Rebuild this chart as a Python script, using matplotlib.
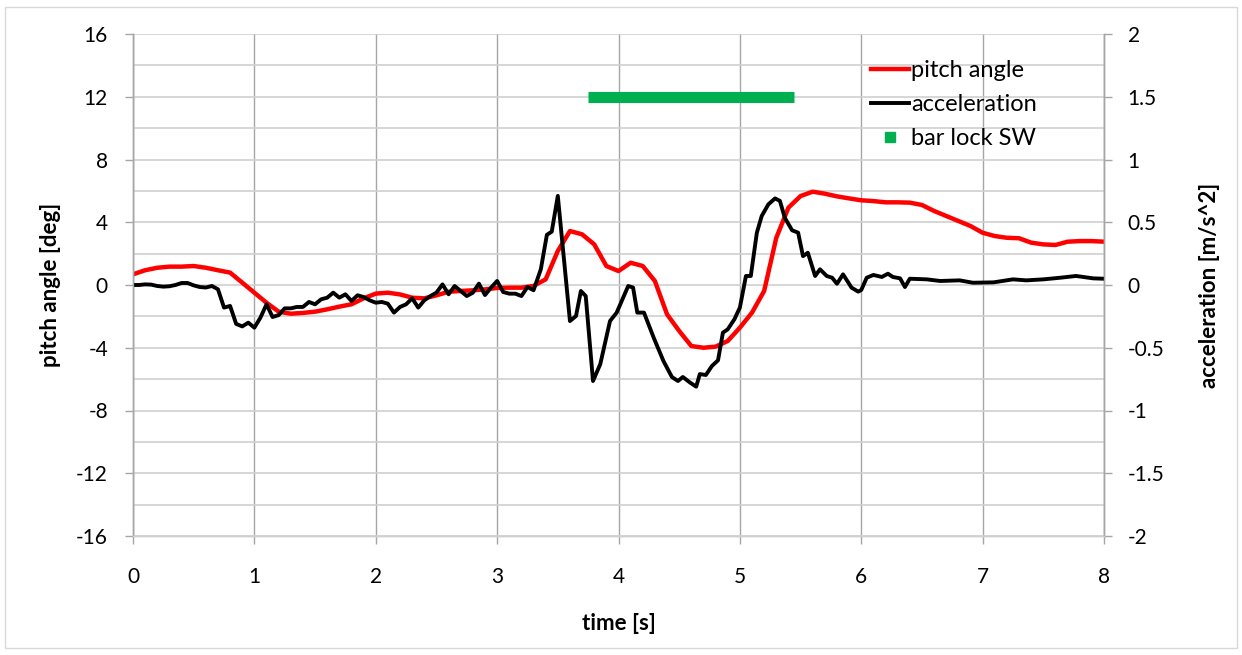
import matplotlib
matplotlib.use("Agg")
import matplotlib.pyplot as plt
from matplotlib.lines import Line2D
from matplotlib.patches import Rectangle
from matplotlib.ticker import MultipleLocator, FuncFormatter

plt.rcParams['font.family'] = ['Lato', 'DejaVu Sans']
plt.rcParams['axes.unicode_minus'] = False

# pitch angle [deg], sampled every 0.1 s
pitch_t = [0.0, 0.1, 0.2, 0.3, 0.4, 0.5, 0.6, 0.7, 0.8, 0.9,
           1.0, 1.1, 1.2, 1.3, 1.4, 1.5, 1.6, 1.7, 1.8, 1.9,
           2.0, 2.1, 2.2, 2.3, 2.4, 2.5, 2.6, 2.7, 2.8, 2.9,
           3.0, 3.1, 3.2, 3.3, 3.4, 3.5, 3.6, 3.7, 3.8, 3.9,
           4.0, 4.1, 4.2, 4.3, 4.4, 4.5, 4.6, 4.7, 4.8, 4.9,
           5.0, 5.1, 5.2, 5.3, 5.4, 5.5, 5.6, 5.7, 5.8, 5.9,
           6.0, 6.1, 6.2, 6.3, 6.4, 6.5, 6.6, 6.7, 6.8, 6.9,
           7.0, 7.1, 7.2, 7.3, 7.4, 7.5, 7.6, 7.7, 7.8, 7.9, 8.0]
pitch = [0.68, 0.94, 1.10, 1.17, 1.17, 1.21, 1.10, 0.94, 0.79, 0.15,
         -0.49, -1.13, -1.70, -1.83, -1.78, -1.70, -1.55, -1.38, -1.23, -0.85,
         -0.55, -0.49, -0.60, -0.81, -0.85, -0.66, -0.43, -0.38, -0.34, -0.28,
         -0.19, -0.17, -0.17, -0.06, 0.36, 2.17, 3.44, 3.23, 2.59, 1.21,
         0.89, 1.42, 1.21, 0.25, -1.87, -2.93, -3.89, -4.00, -3.93, -3.57,
         -2.72, -1.76, -0.38, 3.01, 4.93, 5.67, 5.95, 5.82, 5.65, 5.52,
         5.40, 5.35, 5.27, 5.27, 5.25, 5.10, 4.72, 4.40, 4.08, 3.76,
         3.33, 3.12, 3.01, 2.98, 2.70, 2.59, 2.55, 2.76, 2.80, 2.80, 2.76]

# acceleration [m/s^2]
accel_t = [0.00, 0.05, 0.10, 0.15, 0.20, 0.25, 0.30, 0.35, 0.40, 0.45,
           0.50, 0.55, 0.60, 0.65, 0.70, 0.75, 0.80, 0.85, 0.90, 0.95,
           1.00, 1.05, 1.10, 1.15, 1.20, 1.25, 1.30, 1.35, 1.40, 1.45,
           1.50, 1.55, 1.60, 1.65, 1.70, 1.75, 1.80, 1.85, 1.90, 1.95,
           2.00, 2.05, 2.10, 2.15, 2.20, 2.25, 2.30, 2.35, 2.40, 2.45,
           2.50, 2.55, 2.60, 2.65, 2.70, 2.75, 2.80, 2.85, 2.90, 2.95,
           3.00, 3.05, 3.10, 3.15, 3.20, 3.25, 3.30, 3.36, 3.41, 3.45,
           3.50, 3.60, 3.65, 3.69, 3.73, 3.79, 3.85, 3.93, 3.985, 4.08,
           4.12, 4.155, 4.21, 4.29, 4.37, 4.44, 4.49, 4.53, 4.59, 4.64,
           4.67, 4.72, 4.77, 4.82, 4.86, 4.90, 4.955, 5.00, 5.05, 5.09,
           5.14, 5.18, 5.235, 5.29, 5.33, 5.37, 5.43, 5.48, 5.52, 5.56,
           5.62, 5.66, 5.715, 5.76, 5.80, 5.85, 5.92, 5.975, 6.00, 6.045,
           6.10, 6.17, 6.22, 6.26, 6.32, 6.36, 6.40, 6.54, 6.65, 6.81,
           6.92, 7.09, 7.25, 7.36, 7.50, 7.64, 7.77, 7.91, 8.00]
accel = [0.0, 0.0, 0.005, 0.003, -0.008, -0.013, -0.01, 0.0, 0.016, 0.016,
         -0.003, -0.016, -0.02, -0.008, -0.034, -0.18, -0.167, -0.31, -0.33, -0.30,
         -0.34, -0.26, -0.154, -0.255, -0.24, -0.186, -0.186, -0.175, -0.175, -0.135,
         -0.154, -0.114, -0.101, -0.061, -0.101, -0.074, -0.127, -0.082, -0.096, -0.122,
         -0.141, -0.135, -0.149, -0.22, -0.175, -0.154, -0.106, -0.18, -0.122, -0.088,
         -0.061, 0.005, -0.074, -0.008, -0.048, -0.088, -0.061, 0.011, -0.08, -0.021,
         0.032, -0.056, -0.069, -0.069, -0.088, -0.016, -0.042, 0.125, 0.40, 0.425,
         0.71, -0.287, -0.247, -0.048, -0.088, -0.765, -0.63, -0.287, -0.22, -0.008,
         -0.02, -0.22, -0.22, -0.42, -0.605, -0.733, -0.765, -0.733, -0.778, -0.81,
         -0.71, -0.717, -0.645, -0.60, -0.38, -0.353, -0.273, -0.18, 0.072, 0.072,
         0.417, 0.55, 0.643, 0.69, 0.67, 0.536, 0.436, 0.417, 0.23, 0.257,
         0.072, 0.125, 0.072, 0.058, 0.01, 0.085, -0.021, -0.053, -0.04, 0.058,
         0.08, 0.064, 0.09, 0.064, 0.053, -0.016, 0.05, 0.045, 0.032, 0.037,
         0.018, 0.021, 0.045, 0.037, 0.045, 0.058, 0.072, 0.053, 0.05]

# bar lock switch active interval, drawn at 12 deg
lock_t = [3.75, 5.45]
lock_level = [12, 12]

GREEN = '#00b050'
GRID_V = '#a6a6a6'
GRID_H = '#cfcfcf'

fig = plt.figure(figsize=(12.42, 6.55), dpi=100)
ax = fig.add_axes([133 / 1242, 1 - 536 / 655, 971 / 1242, 502 / 655])
ax2 = ax.twinx()

ax.set_xlim(0, 8)
ax.set_ylim(-16, 16)
ax2.set_ylim(-2, 2)

ax.xaxis.set_major_locator(MultipleLocator(1))
ax.yaxis.set_major_locator(MultipleLocator(4))
ax.yaxis.set_minor_locator(MultipleLocator(2))
ax2.yaxis.set_major_locator(MultipleLocator(0.5))
ax2.yaxis.set_major_formatter(FuncFormatter(lambda v, pos: f'{v:g}'))

ax.grid(True, axis='x', color=GRID_V, lw=1.0)
ax.grid(True, axis='y', which='both', color=GRID_H, lw=1.2)
ax.set_axisbelow(True)

for a in (ax, ax2):
    for s in a.spines.values():
        s.set_color(GRID_V)
        s.set_linewidth(1.0)
    a.spines['top'].set_visible(False)
    a.spines['bottom'].set_color(GRID_H)

ax.tick_params(axis='both', which='major', length=6, width=1.0, color=GRID_V,
               labelsize=15, labelcolor='#000000')
ax.tick_params(axis='y', which='minor', length=0)
ax.tick_params(axis='x', pad=16)
ax.tick_params(axis='y', pad=12)
ax2.tick_params(axis='y', length=6, width=1.0, color=GRID_V, labelsize=15, pad=11)

ax.plot(pitch_t, pitch, color='#ff0000', lw=3.2, solid_joinstyle='round')
ax.plot(lock_t, lock_level, color=GREEN, lw=8, solid_capstyle='butt')
ax2.plot(accel_t, accel, color='black', lw=2.8, solid_joinstyle='round')

ax.set_xlabel('time [s]', fontsize=16, fontweight='bold', labelpad=19)
ax.set_ylabel('pitch angle [deg]', fontsize=16, fontweight='bold', labelpad=11)
ax2.set_ylabel('acceleration [m/s^2]', fontsize=16, fontweight='bold', labelpad=25)

handles = [Line2D([], [], color='#ff0000', lw=3.2),
           Line2D([], [], color='black', lw=2.8),
           Line2D([], [], color=GREEN, marker='s', ls='none', markersize=7)]
labels = ['pitch angle', 'acceleration', 'bar lock SW']
ax2.legend(handles, labels, loc='upper left', bbox_to_anchor=(0.748, 0.972),
           frameon=False, fontsize=17, borderpad=0, handlelength=1.6,
           handletextpad=0.1, labelspacing=0.56)

fig.patches.append(Rectangle((5 / 1242, 7 / 655), 1232 / 1242, 641 / 655,
                             transform=fig.transFigure, fill=False,
                             edgecolor='#d9d9d9', lw=1.0))

fig.savefig('out.png', dpi=100)
